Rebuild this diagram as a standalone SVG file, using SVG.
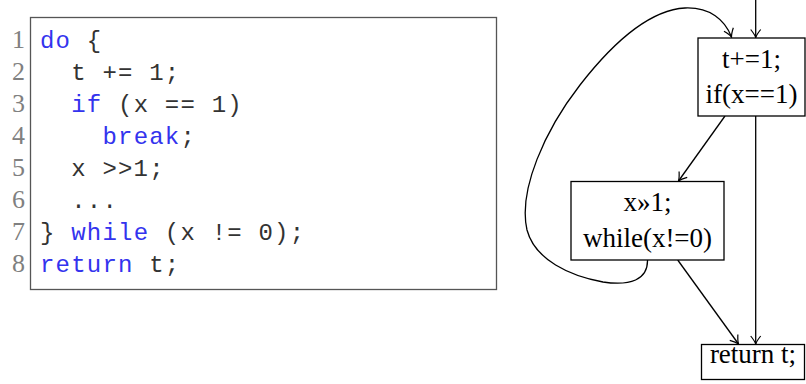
<svg xmlns="http://www.w3.org/2000/svg" width="806" height="384" viewBox="0 0 806 384">
<style>
.num{font-family:"Liberation Serif",serif;font-size:26px;fill:#808080;text-anchor:end}
.code{font-family:"Liberation Mono",monospace;font-size:24px;letter-spacing:1.2px;fill:#333;white-space:pre}
.kw{fill:#3333ee}
.lbl{font-family:"Liberation Serif",serif;font-size:27px;fill:#000;text-anchor:middle}
.box{fill:#fff;stroke:#000;stroke-width:1.3}
.edge{fill:none;stroke:#000;stroke-width:1.3;marker-end:url(#arr)}
</style>
<defs>
<marker id="arr" viewBox="-10 -6 12 12" markerWidth="12" markerHeight="12" refX="0" refY="0" orient="auto" markerUnits="userSpaceOnUse">
<path d="M -8 -5 Q -3 -1 0 0 Q -3 1 -8 5" fill="none" stroke="#000" stroke-width="1.2"/>
</marker>
</defs>
<g id="code">
<rect x="30.5" y="17.5" width="466" height="272" fill="none" stroke="#555" stroke-width="1.3"/>
<text class="num" x="25" y="48">1</text>
<text class="num" x="25" y="80">2</text>
<text class="num" x="25" y="112">3</text>
<text class="num" x="25" y="144">4</text>
<text class="num" x="25" y="176">5</text>
<text class="num" x="25" y="208">6</text>
<text class="num" x="25" y="240">7</text>
<text class="num" x="25" y="272">8</text>
<text class="code" x="40" y="48"><tspan class="kw">do</tspan> {</text>
<text class="code" x="40" y="80">  t += 1;</text>
<text class="code" x="40" y="112">  <tspan class="kw">if</tspan> (x == 1)</text>
<text class="code" x="40" y="144">    <tspan class="kw">break</tspan>;</text>
<text class="code" x="40" y="176">  x &gt;&gt;1;</text>
<text class="code" x="40" y="208">  ...</text>
<text class="code" x="40" y="240">} <tspan class="kw">while</tspan> (x != 0);</text>
<text class="code" x="40" y="272"><tspan class="kw">return</tspan> t;</text>
</g>
<g id="connectors">
<path class="edge" d="M 755.7 0 L 755.7 37.5"/>
<path class="edge" d="M 725 116 L 678.5 181"/>
<path class="edge" d="M 755.7 116 L 755.7 344"/>
<path class="edge" d="M 677.7 260 L 738.5 344"/>
<path class="edge" d="M 647.5 260 C 648 280, 630 286, 603 282 C 570 276, 535 260, 527 230 C 518 190, 545 130, 580 85 C 615 40, 650 10, 685 8 C 710 7, 725 20, 731.5 37"/>
</g>
<g id="node1">
<rect class="box" x="698" y="38" width="107" height="78"/>
<text class="lbl" x="751.5" y="68">t+=1;</text>
<text class="lbl" x="751.5" y="103">if(x==1)</text>
</g>
<g id="node2">
<rect class="box" x="571" y="181.5" width="153" height="78.5"/>
<text class="lbl" x="647.5" y="211">x»1;</text>
<text class="lbl" x="647.5" y="246.5">while(x!=0)</text>
</g>
<g id="node3">
<rect class="box" x="701.5" y="344.5" width="103" height="35"/>
<text class="lbl" x="753" y="363">return t;</text>
</g>
</svg>
